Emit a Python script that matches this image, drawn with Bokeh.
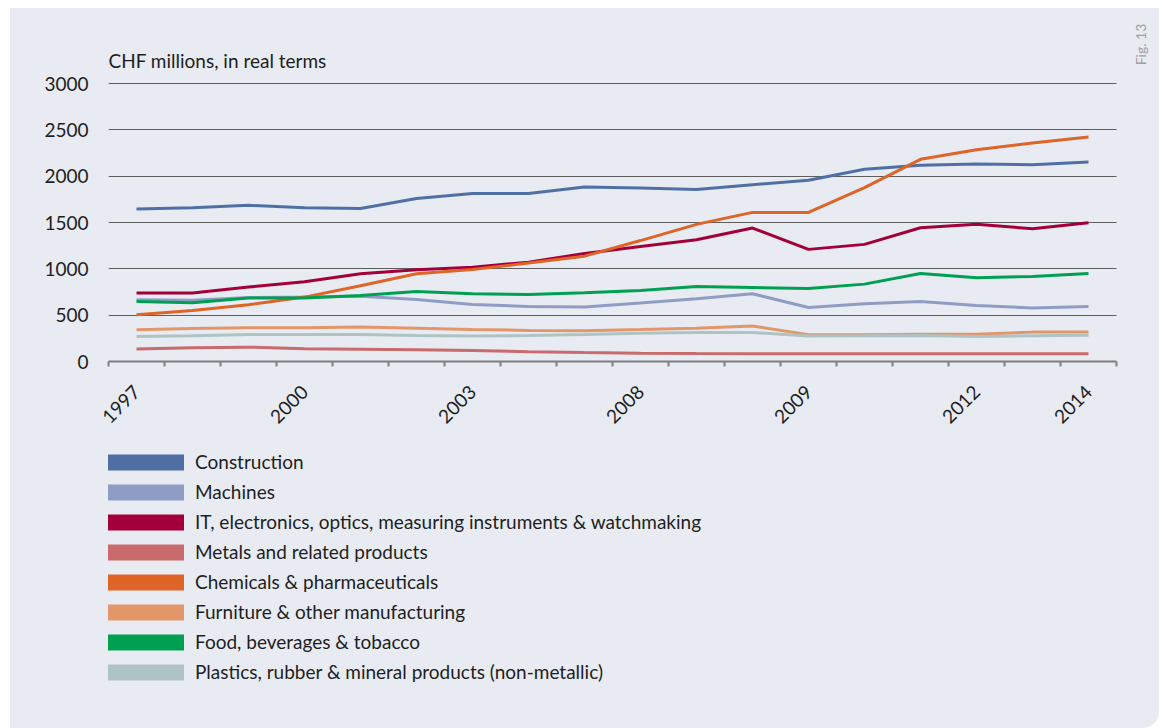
import math
from bokeh.plotting import figure
from bokeh.layouts import column
from bokeh.models import (FixedTicker, Range1d, Legend, LegendItem, Label,
                          ColumnDataSource)
from bokeh.embed import file_html
from bokeh.resources import INLINE

years = list(range(1997, 2015))
tick_positions = [0, 3, 6, 9, 12, 15, 17]
tick_labels = ["1997", "2000", "2003", "2008", "2009", "2012", "2014"]
y_ticks = [0, 500, 1000, 1500, 2000, 2500, 3000]

series_names = [
    "Construction",
    "Machines",
    "IT, electronics, optics, measuring instruments & watchmaking",
    "Metals and related products",
    "Chemicals & pharmaceuticals",
    "Furniture & other manufacturing",
    "Food, beverages & tobacco",
    "Plastics, rubber & mineral products (non-metallic)",
]
series_colors = ["#5070a5", "#8f9dc5", "#a3003a", "#c96a6c",
                 "#df6427", "#e3966a", "#00a052", "#aec4c2"]

construction = [1645, 1658, 1685, 1658, 1650, 1760, 1812, 1812, 1883,
                1872, 1856, 1908, 1955, 2074, 2117, 2131, 2124, 2153]
machines = [666, 660, 690, 695, 705, 668, 616, 594, 588,
            632, 677, 731, 582, 623, 648, 605, 578, 594]
it_electronics = [738, 738, 803, 860, 947, 990, 1018, 1072, 1165,
                  1240, 1314, 1440, 1210, 1264, 1444, 1480, 1433, 1498]
metals = [135, 148, 155, 137, 133, 128, 118, 105, 97,
          90, 86, 83, 83, 83, 83, 83, 83, 83]
chemicals = [504, 551, 612, 695, 817, 947, 994, 1062, 1137,
             1305, 1480, 1609, 1609, 1876, 2182, 2286, 2358, 2423]
furniture = [342, 356, 364, 364, 371, 360, 346, 335, 331,
             344, 360, 382, 290, 290, 295, 295, 317, 317]
food = [648, 634, 684, 684, 713, 756, 731, 724, 742,
        767, 810, 799, 788, 835, 950, 904, 918, 950]
plastics = [270, 277, 292, 292, 292, 281, 274, 281, 292,
            304, 313, 313, 274, 277, 281, 270, 277, 284]

series_values = [construction, machines, it_electronics, metals,
                 chemicals, furniture, food, plastics]

BG = "#e8ebf2"
FONT = "Lato"
FS = "19px"
TXT = "#1e1e1e"

# geometry (pixels)
CAT_PX = 56.0            # width of one year slot
FRAME_W = 1051           # frame from page x=108 to 1159
FRAME_H = 353            # frame from page y=8 to 361
PX_PER_UNIT = 278.0 / 3000.0
x_end = -0.5 + FRAME_W / CAT_PX
y_end = FRAME_H / PX_PER_UNIT

p = figure(frame_width=FRAME_W, frame_height=FRAME_H,
           min_border_left=98, min_border_right=0,
           min_border_top=0, min_border_bottom=80,
           x_range=Range1d(-0.5, x_end), y_range=Range1d(0, y_end),
           output_backend="svg", toolbar_location=None,
           background_fill_color=None, border_fill_color=BG,
           outline_line_color=None)
p.title.visible = False

xs = list(range(len(years)))
for name, col, vals in zip(series_names, series_colors, series_values):
    src = ColumnDataSource(dict(x=xs, y=vals))
    p.line("x", "y", source=src, line_color=col, line_width=3)

xa = p.xaxis[0]
xa.bounds = (-0.5, len(years) - 0.5)
xa.ticker = FixedTicker(ticks=tick_positions,
                        minor_ticks=[i - 0.5 for i in range(len(years) + 1)])
xa.major_label_overrides = {t: l for t, l in zip(tick_positions, tick_labels)}
xa.major_label_orientation = math.pi / 4
xa.major_tick_in = 0
xa.major_tick_out = 0
xa.minor_tick_in = 0
xa.minor_tick_out = 5
xa.minor_tick_line_color = "#7f7f7f"
xa.minor_tick_line_width = 2
xa.axis_line_color = "#7f7f7f"
xa.axis_line_width = 2
xa.major_label_standoff = 22
xa.major_label_text_font = FONT
xa.major_label_text_font_size = FS
xa.major_label_text_color = TXT

ya = p.yaxis[0]
ya.ticker = FixedTicker(ticks=y_ticks)
ya.axis_line_color = None
ya.major_tick_line_color = None
ya.major_tick_out = 0
ya.major_tick_in = 0
ya.minor_tick_line_color = None
ya.major_label_standoff = 20
ya.major_label_text_font = FONT
ya.major_label_text_font_size = FS
ya.major_label_text_color = TXT

p.xgrid.grid_line_color = None
p.ygrid.ticker = FixedTicker(ticks=y_ticks)
p.ygrid.grid_line_color = "#5e5e5e"
p.ygrid.grid_line_width = 1.2
try:
    p.ygrid.cross_bounds = (-0.5, len(years) - 0.5)
except AttributeError:
    pass

# unit title and figure number, positioned in screen pixels converted to data
p.add_layout(Label(x=-0.5, y=(361 - 60) / PX_PER_UNIT,
                   text="CHF millions, in real terms",
                   text_font=FONT, text_font_size=FS, text_color=TXT,
                   text_baseline="alphabetic"))
p.add_layout(Label(x=-0.5 + (1140 - 108) / CAT_PX,
                   y=(361 - 44) / PX_PER_UNIT, text="Fig. 13",
                   text_font=FONT, text_font_size="14px",
                   text_color="#a0a0a0", angle=math.pi / 2,
                   text_align="center", text_baseline="middle"))

# ---- legend panel (separate figure, frame aligned with the chart)
LEG_H = 287
leg = figure(width=1149, height=LEG_H, x_range=Range1d(0, 1),
             y_range=Range1d(0, 1), min_border=0,
             x_axis_location=None, y_axis_location=None,
             output_backend="svg", toolbar_location=None,
             background_fill_color=None, border_fill_color=BG,
             outline_line_color=None)
leg.title.visible = False
leg.grid.grid_line_color = None

items = []
for name, col in zip(series_names, series_colors):
    q = leg.quad(left=[0], right=[0], top=[0], bottom=[0], fill_color=col,
                 line_color=None, visible=False)
    items.append(LegendItem(label=name, renderers=[q]))

# area swatches are drawn with a 10% inset, so 95x20 boxes give 76x16 swatches
legend = Legend(items=items, location=(-10, 45), orientation="vertical",
                glyph_width=95, glyph_height=20, label_height=16,
                spacing=7, label_standoff=2, padding=0, margin=0,
                background_fill_alpha=0, border_line_color=None,
                inactive_fill_alpha=0,
                label_text_font=FONT, label_text_font_size=FS,
                label_text_color=TXT)
leg.add_layout(legend, "center")

layout = column(p, leg, spacing=0, margin=(8, 0, 0, 10),
                styles={"background-color": BG,
                        "border-bottom-right-radius": "16px",
                        "overflow": "hidden"})
open("out.html", "w").write(file_html(layout, INLINE))
